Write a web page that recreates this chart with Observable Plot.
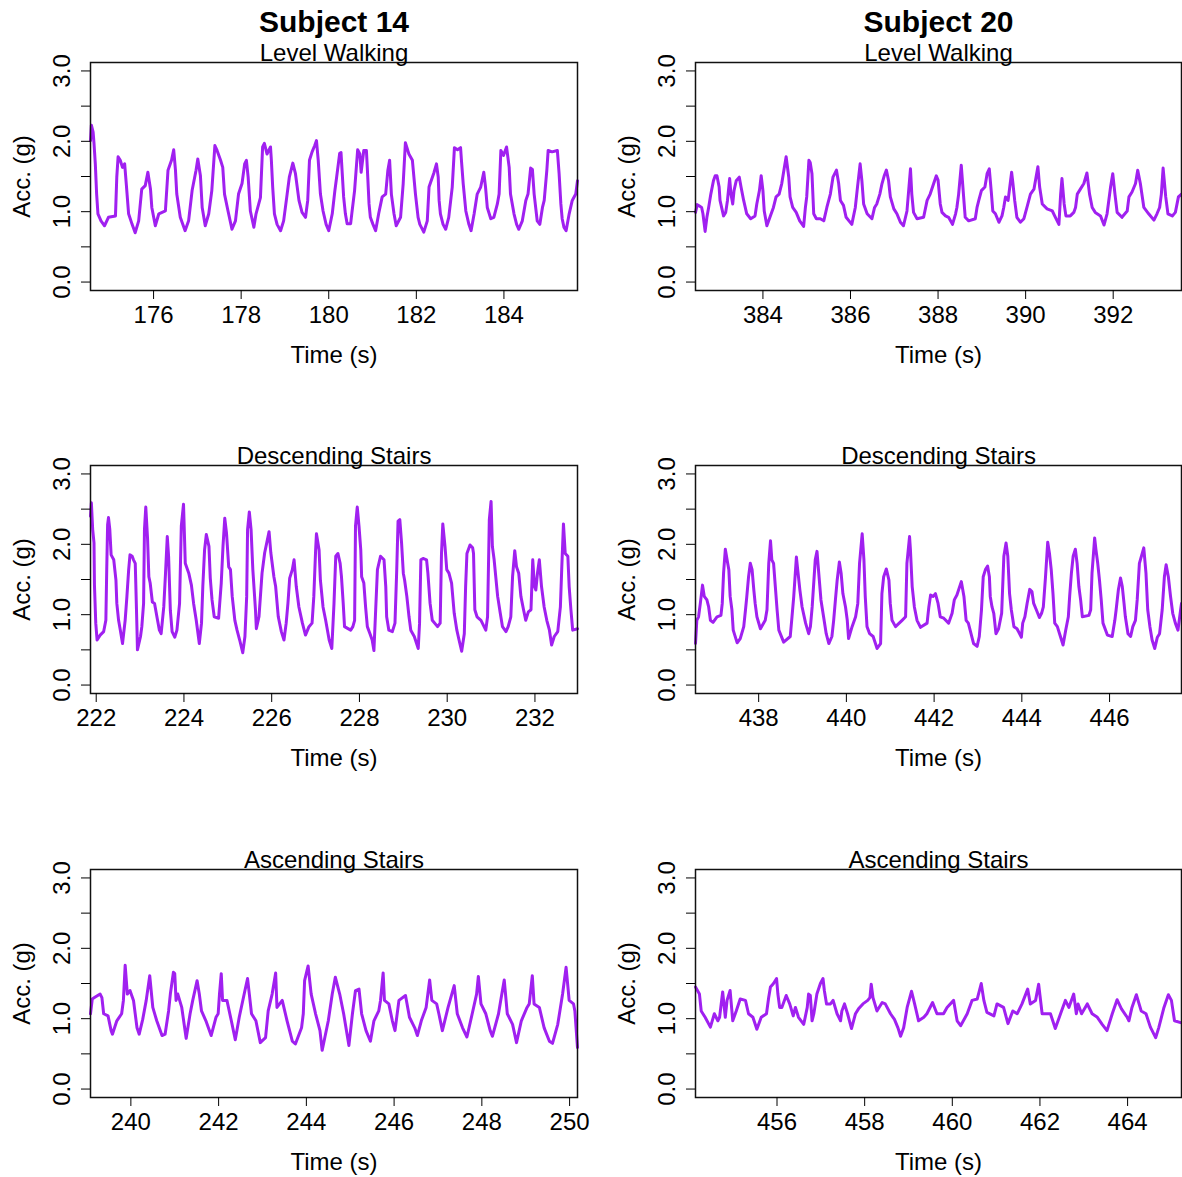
<!DOCTYPE html>
<html><head><meta charset="utf-8">
<script src="https://cdn.jsdelivr.net/npm/d3@7"></script>
<script src="https://cdn.jsdelivr.net/npm/@observablehq/plot@0.6"></script>
<style>
body{margin:0;background:#fff;}
#chart{position:relative;width:1182px;height:1177px;overflow:hidden;background:#fff;}
#chart svg{position:absolute;}
</style></head><body><div id="chart"></div>
<script>
const subjects = ["Subject 14", "Subject 20"];
const activities = ["Level Walking", "Descending Stairs", "Ascending Stairs"];
const xLabel = "Time (s)";
const yLabel = "Acc. (g)";
const yTicks = [0, 0.5, 1, 1.5, 2, 2.5, 3];
const yDomain = [-0.12, 3.12];

const s14LevelTicks = [176, 178, 180, 182, 184];
const s20LevelTicks = [384, 386, 388, 390, 392];
const s14DescTicks = [222, 224, 226, 228, 230, 232];
const s20DescTicks = [438, 440, 442, 444, 446];
const s14AscTicks = [240, 242, 244, 246, 248, 250];
const s20AscTicks = [456, 458, 460, 462, 464];

// [time (s), acceleration (g)]
const s14Level = [[174.56,2.01],[174.58,2.23],[174.62,2.13],[174.64,1.97],[174.67,1.68],[174.70,1.25],[174.73,0.97],[174.80,0.87],[174.88,0.80],[174.97,0.92],[175.13,0.94],[175.16,1.49],[175.19,1.78],[175.24,1.73],[175.29,1.63],[175.34,1.68],[175.38,1.37],[175.43,0.97],[175.51,0.82],[175.58,0.70],[175.66,0.87],[175.73,1.32],[175.81,1.37],[175.87,1.56],[175.93,1.32],[175.96,1.06],[176.04,0.80],[176.12,0.97],[176.27,1.01],[176.33,1.59],[176.41,1.73],[176.46,1.88],[176.50,1.59],[176.53,1.25],[176.61,0.92],[176.72,0.73],[176.80,0.87],[176.88,1.30],[176.97,1.59],[177.01,1.75],[177.07,1.51],[177.11,1.06],[177.18,0.80],[177.26,0.97],[177.33,1.30],[177.40,1.94],[177.45,1.87],[177.53,1.73],[177.58,1.63],[177.62,1.25],[177.70,1.01],[177.79,0.75],[177.87,0.87],[177.94,1.25],[178.02,1.40],[178.08,1.68],[178.12,1.73],[178.16,1.49],[178.21,1.01],[178.29,0.78],[178.34,0.97],[178.44,1.20],[178.49,1.92],[178.53,1.97],[178.59,1.82],[178.67,1.92],[178.69,1.73],[178.72,1.35],[178.76,0.97],[178.82,0.82],[178.90,0.73],[178.97,0.87],[179.05,1.25],[179.10,1.49],[179.18,1.69],[179.24,1.54],[179.32,1.16],[179.39,0.99],[179.47,0.92],[179.52,1.16],[179.56,1.73],[179.62,1.85],[179.68,1.94],[179.72,2.01],[179.76,1.73],[179.81,1.25],[179.87,1.01],[179.94,0.82],[180.00,0.73],[180.08,0.97],[180.14,1.30],[180.18,1.49],[180.25,1.83],[180.28,1.84],[180.34,1.21],[180.38,0.97],[180.42,0.83],[180.50,0.83],[180.53,0.99],[180.59,1.30],[180.66,1.88],[180.71,1.82],[180.74,1.56],[180.80,1.87],[180.86,1.87],[180.88,1.63],[180.92,1.11],[180.95,0.92],[181.01,0.82],[181.07,0.73],[181.14,0.97],[181.22,1.21],[181.30,1.25],[181.35,1.59],[181.39,1.73],[181.43,1.25],[181.49,0.97],[181.54,0.80],[181.64,0.92],[181.70,1.40],[181.75,1.98],[181.83,1.82],[181.91,1.73],[181.93,1.59],[181.98,1.25],[182.04,0.92],[182.08,0.82],[182.17,0.71],[182.25,0.87],[182.29,1.35],[182.40,1.55],[182.46,1.68],[182.50,1.49],[182.52,1.16],[182.55,0.97],[182.61,0.82],[182.67,0.75],[182.74,0.92],[182.82,1.35],[182.87,1.91],[182.94,1.88],[183.01,1.91],[183.03,1.73],[183.07,1.40],[183.13,1.01],[183.20,0.82],[183.25,0.73],[183.32,0.97],[183.39,1.25],[183.47,1.35],[183.54,1.56],[183.58,1.35],[183.62,1.06],[183.70,0.90],[183.77,0.92],[183.85,1.11],[183.89,1.25],[183.93,1.87],[183.99,1.80],[184.06,1.92],[184.12,1.63],[184.15,1.25],[184.23,0.97],[184.29,0.82],[184.34,0.75],[184.42,0.87],[184.50,1.16],[184.55,1.25],[184.61,1.62],[184.65,1.60],[184.69,1.25],[184.76,0.87],[184.82,0.82],[184.88,1.06],[184.92,1.16],[184.98,1.59],[185.01,1.87],[185.10,1.85],[185.22,1.87],[185.26,1.54],[185.30,1.11],[185.33,0.90],[185.37,0.78],[185.42,0.73],[185.49,0.97],[185.56,1.16],[185.64,1.25],[185.68,1.44]];

const s20Level = [[382.46,0.99],[382.50,1.10],[382.55,1.08],[382.60,1.06],[382.63,0.97],[382.68,0.72],[382.72,0.92],[382.76,1.06],[382.81,1.25],[382.87,1.44],[382.91,1.51],[382.95,1.51],[383.00,1.35],[383.02,1.16],[383.10,0.94],[383.15,0.99],[383.19,1.16],[383.24,1.47],[383.27,1.25],[383.31,1.11],[383.34,1.30],[383.39,1.44],[383.46,1.49],[383.50,1.35],[383.56,1.16],[383.63,0.97],[383.72,0.90],[383.82,0.94],[383.86,1.11],[383.92,1.30],[383.96,1.51],[384.00,1.30],[384.03,1.01],[384.09,0.80],[384.17,0.94],[384.24,1.06],[384.30,1.21],[384.37,1.25],[384.43,1.40],[384.49,1.63],[384.53,1.78],[384.59,1.49],[384.62,1.21],[384.68,1.06],[384.76,0.99],[384.84,0.87],[384.93,0.79],[384.97,1.06],[385.00,1.21],[385.05,1.73],[385.08,1.70],[385.12,1.54],[385.16,0.97],[385.22,0.90],[385.31,0.90],[385.39,0.87],[385.46,1.06],[385.54,1.25],[385.60,1.49],[385.68,1.59],[385.73,1.40],[385.77,1.16],[385.84,1.09],[385.90,0.92],[386.03,0.82],[386.11,1.06],[386.16,1.35],[386.22,1.68],[386.26,1.44],[386.30,1.11],[386.38,0.97],[386.49,0.90],[386.55,1.06],[386.60,1.11],[386.67,1.25],[386.72,1.40],[386.77,1.51],[386.82,1.59],[386.87,1.44],[386.91,1.21],[386.99,1.04],[387.06,0.97],[387.14,0.85],[387.21,0.80],[387.29,1.01],[387.37,1.61],[387.40,1.25],[387.44,0.99],[387.52,0.90],[387.67,0.92],[387.75,1.16],[387.82,1.25],[387.90,1.40],[387.96,1.51],[388.00,1.45],[388.05,1.11],[388.09,0.99],[388.17,0.94],[388.24,0.92],[388.33,0.82],[388.40,0.97],[388.43,1.06],[388.47,1.25],[388.53,1.66],[388.59,1.16],[388.62,0.92],[388.70,0.87],[388.85,0.90],[388.89,1.06],[388.93,1.16],[388.99,1.30],[389.07,1.35],[389.12,1.54],[389.17,1.61],[389.22,1.25],[389.25,1.01],[389.31,0.97],[389.39,0.85],[389.46,0.94],[389.50,1.06],[389.54,1.21],[389.60,1.16],[389.68,1.56],[389.71,1.40],[389.75,1.16],[389.80,0.92],[389.88,0.85],[389.96,0.90],[390.03,1.06],[390.11,1.25],[390.19,1.32],[390.28,1.64],[390.32,1.35],[390.38,1.11],[390.49,1.04],[390.61,1.01],[390.68,0.92],[390.76,0.82],[390.80,1.25],[390.83,1.47],[390.88,1.11],[390.92,0.94],[391.02,0.94],[391.10,0.99],[391.14,1.06],[391.18,1.25],[391.25,1.32],[391.33,1.40],[391.40,1.55],[391.46,1.25],[391.52,1.06],[391.59,0.99],[391.71,0.94],[391.79,0.81],[391.86,0.97],[391.94,1.35],[391.99,1.54],[392.04,1.25],[392.09,0.99],[392.20,0.92],[392.32,1.01],[392.36,1.21],[392.43,1.28],[392.51,1.40],[392.56,1.59],[392.62,1.40],[392.70,1.06],[392.81,0.97],[392.93,0.88],[393.00,0.97],[393.06,1.06],[393.10,1.25],[393.14,1.62],[393.20,1.21],[393.25,0.97],[393.35,0.94],[393.42,0.99],[393.49,1.21],[393.56,1.25]];

const s14Desc = [[221.87,2.40],[221.89,2.59],[221.92,2.21],[221.95,2.02],[221.96,1.42],[221.99,0.88],[222.02,0.64],[222.09,0.71],[222.17,0.76],[222.22,0.92],[222.24,1.64],[222.26,2.28],[222.28,2.38],[222.31,2.21],[222.34,1.85],[222.40,1.78],[222.45,1.49],[222.47,1.16],[222.51,0.92],[222.55,0.78],[222.60,0.59],[222.66,0.92],[222.70,1.26],[222.74,1.64],[222.77,1.85],[222.82,1.83],[222.85,1.78],[222.89,1.73],[222.91,1.26],[222.93,0.78],[222.94,0.50],[223.01,0.69],[223.04,0.83],[223.08,1.16],[223.10,2.21],[223.13,2.53],[223.17,2.09],[223.20,1.54],[223.23,1.45],[223.28,1.18],[223.33,1.16],[223.39,0.95],[223.44,0.78],[223.48,0.73],[223.54,1.11],[223.58,1.59],[223.62,2.11],[223.65,1.83],[223.69,1.06],[223.73,0.76],[223.79,0.68],[223.84,0.78],[223.90,1.16],[223.94,2.26],[223.99,2.57],[224.03,1.73],[224.11,1.59],[224.17,1.42],[224.22,1.16],[224.28,0.92],[224.35,0.59],[224.40,0.88],[224.43,1.40],[224.47,1.92],[224.51,2.14],[224.57,1.97],[224.60,1.52],[224.64,1.21],[224.69,0.97],[224.79,0.95],[224.85,1.45],[224.89,1.97],[224.93,2.37],[224.97,2.16],[225.02,1.68],[225.06,1.64],[225.10,1.26],[225.16,0.92],[225.21,0.78],[225.27,0.64],[225.34,0.46],[225.39,0.69],[225.43,1.26],[225.45,2.21],[225.49,2.46],[225.53,2.21],[225.57,1.64],[225.63,1.07],[225.65,0.80],[225.71,0.97],[225.78,1.59],[225.84,1.88],[225.94,2.18],[225.98,1.88],[226.05,1.54],[226.09,1.40],[226.15,0.97],[226.22,0.76],[226.28,0.64],[226.33,0.88],[226.37,1.16],[226.41,1.52],[226.47,1.64],[226.51,1.78],[226.56,1.40],[226.62,1.11],[226.70,0.88],[226.77,0.71],[226.85,0.83],[226.92,0.88],[226.96,1.26],[227.00,1.90],[227.02,2.15],[227.08,1.92],[227.11,1.49],[227.17,1.11],[227.23,0.92],[227.31,0.64],[227.37,0.52],[227.42,1.16],[227.46,1.83],[227.51,1.87],[227.56,1.73],[227.59,1.54],[227.63,1.16],[227.66,0.83],[227.80,0.78],[227.85,0.83],[227.89,0.92],[227.91,2.26],[227.95,2.53],[227.99,2.26],[228.03,1.92],[228.05,1.54],[228.10,1.45],[228.14,1.11],[228.18,0.83],[228.24,0.73],[228.29,0.64],[228.33,0.49],[228.37,1.07],[228.41,1.64],[228.48,1.83],[228.56,1.78],[228.60,1.40],[228.62,0.97],[228.67,0.78],[228.75,0.76],[228.81,0.88],[228.85,1.64],[228.88,2.33],[228.92,2.35],[228.96,2.02],[229.00,1.59],[229.03,1.49],[229.08,1.26],[229.13,0.97],[229.17,0.78],[229.25,0.69],[229.34,0.52],[229.37,0.88],[229.40,1.78],[229.45,1.80],[229.53,1.78],[229.56,1.59],[229.61,1.16],[229.66,0.92],[229.78,0.83],[229.84,0.88],[229.87,1.87],[229.90,2.29],[229.95,1.97],[229.99,1.64],[230.04,1.59],[230.10,1.45],[230.16,1.02],[230.22,0.78],[230.27,0.64],[230.33,0.48],[230.39,0.73],[230.42,1.40],[230.45,1.87],[230.52,1.99],[230.58,1.95],[230.60,1.87],[230.63,1.07],[230.68,0.97],[230.77,0.92],[230.88,0.78],[230.92,0.97],[230.96,2.35],[231.00,2.61],[231.03,1.97],[231.07,1.78],[231.15,1.26],[231.21,1.02],[231.26,0.83],[231.34,0.76],[231.39,0.83],[231.45,0.97],[231.49,1.54],[231.54,1.91],[231.58,1.68],[231.63,1.59],[231.68,1.26],[231.74,1.07],[231.79,0.92],[231.85,1.04],[231.91,1.07],[231.95,1.78],[231.99,1.40],[232.02,1.35],[232.06,1.60],[232.10,1.78],[232.15,1.40],[232.21,1.11],[232.27,0.92],[232.33,0.78],[232.38,0.57],[232.44,0.69],[232.52,0.76],[232.58,1.11],[232.61,1.64],[232.65,2.29],[232.69,1.87],[232.75,1.83],[232.78,1.40],[232.82,1.07],[232.86,0.78],[232.97,0.80]];

const s20Desc = [[436.56,0.59],[436.59,0.92],[436.63,0.97],[436.67,1.16],[436.72,1.42],[436.76,1.26],[436.82,1.21],[436.86,1.11],[436.90,0.92],[436.96,0.89],[437.05,0.97],[437.14,0.99],[437.17,1.16],[437.20,1.59],[437.24,1.93],[437.28,1.78],[437.32,1.64],[437.35,1.26],[437.39,1.07],[437.42,0.78],[437.51,0.60],[437.58,0.66],[437.66,0.83],[437.70,1.07],[437.73,1.26],[437.77,1.54],[437.81,1.73],[437.85,1.64],[437.89,1.35],[437.92,1.16],[437.96,0.97],[438.04,0.80],[438.15,0.92],[438.19,1.07],[438.23,1.73],[438.27,2.05],[438.30,1.78],[438.34,1.73],[438.38,1.40],[438.42,1.07],[438.46,0.78],[438.57,0.61],[438.72,0.69],[438.76,0.97],[438.80,1.26],[438.86,1.82],[438.89,1.64],[438.94,1.35],[438.99,1.11],[439.07,0.88],[439.14,0.73],[439.18,0.83],[439.22,1.11],[439.26,1.49],[439.29,1.78],[439.33,1.90],[439.37,1.59],[439.42,1.21],[439.48,0.97],[439.54,0.73],[439.60,0.59],[439.67,0.69],[439.71,0.92],[439.75,1.21],[439.79,1.49],[439.84,1.75],[439.88,1.59],[439.92,1.30],[439.98,1.11],[440.02,0.92],[440.05,0.66],[440.13,0.83],[440.21,0.97],[440.26,1.16],[440.30,1.73],[440.36,2.15],[440.40,1.78],[440.43,1.26],[440.47,0.83],[440.53,0.73],[440.61,0.69],[440.70,0.52],[440.78,0.59],[440.81,1.30],[440.85,1.54],[440.91,1.65],[440.97,1.49],[441.00,1.16],[441.04,0.92],[441.12,0.83],[441.27,0.92],[441.35,0.97],[441.38,1.73],[441.44,2.11],[441.46,1.92],[441.50,1.40],[441.55,1.11],[441.61,0.92],[441.69,0.82],[441.84,0.88],[441.88,1.11],[441.92,1.28],[441.98,1.26],[442.03,1.30],[442.09,1.16],[442.14,0.97],[442.22,0.95],[442.33,0.88],[442.41,1.02],[442.46,1.21],[442.52,1.28],[442.62,1.47],[442.68,1.26],[442.73,0.92],[442.78,0.88],[442.83,0.76],[442.90,0.59],[442.98,0.55],[443.03,0.69],[443.08,1.07],[443.12,1.54],[443.17,1.64],[443.22,1.69],[443.26,1.54],[443.28,1.26],[443.32,1.11],[443.36,1.02],[443.41,0.73],[443.47,0.80],[443.54,1.02],[443.59,1.83],[443.64,2.02],[443.68,1.83],[443.72,1.30],[443.76,1.07],[443.82,0.83],[443.89,0.80],[443.99,0.68],[444.02,0.88],[444.07,0.97],[444.12,1.16],[444.18,1.36],[444.23,1.33],[444.27,1.16],[444.33,1.07],[444.40,0.96],[444.45,1.02],[444.49,1.11],[444.54,1.54],[444.59,2.03],[444.63,1.87],[444.67,1.64],[444.71,1.30],[444.75,0.88],[444.81,0.83],[444.86,0.73],[444.94,0.57],[445.00,0.78],[445.06,0.97],[445.09,1.26],[445.13,1.59],[445.17,1.83],[445.22,1.93],[445.26,1.73],[445.30,1.40],[445.34,1.21],[445.38,0.97],[445.53,0.99],[445.57,1.07],[445.60,1.59],[445.66,2.09],[445.69,1.92],[445.73,1.73],[445.77,1.49],[445.81,1.21],[445.85,0.88],[445.95,0.71],[446.06,0.69],[446.12,0.92],[446.15,1.07],[446.20,1.35],[446.25,1.52],[446.29,1.40],[446.33,1.16],[446.36,0.97],[446.42,0.73],[446.48,0.69],[446.53,0.83],[446.59,0.92],[446.63,1.21],[446.68,1.73],[446.78,1.95],[446.83,1.59],[446.87,1.07],[446.92,0.83],[446.97,0.64],[447.03,0.52],[447.09,0.68],[447.14,0.73],[447.20,1.07],[447.25,1.54],[447.29,1.71],[447.34,1.54],[447.39,1.26],[447.44,1.02],[447.50,0.88],[447.56,0.78],[447.62,1.07],[447.64,1.16]];

const s14Asc = [[239.08,1.07],[239.12,1.28],[239.17,1.30],[239.30,1.35],[239.34,1.30],[239.38,1.07],[239.48,1.04],[239.55,0.83],[239.58,0.78],[239.68,0.97],[239.79,1.07],[239.83,1.26],[239.87,1.76],[239.92,1.35],[239.98,1.40],[240.06,1.26],[240.14,0.87],[240.19,0.78],[240.27,0.99],[240.35,1.26],[240.43,1.61],[240.50,1.16],[240.59,0.97],[240.71,0.76],[240.78,0.78],[240.86,1.11],[240.90,1.35],[240.97,1.66],[241.00,1.64],[241.03,1.26],[241.07,1.35],[241.16,1.16],[241.26,0.72],[241.35,1.07],[241.41,1.26],[241.51,1.54],[241.56,1.35],[241.61,1.11],[241.71,0.97],[241.83,0.76],[241.94,1.02],[241.99,1.07],[242.02,1.35],[242.06,1.64],[242.09,1.26],[242.19,1.26],[242.29,0.97],[242.38,0.70],[242.47,1.02],[242.60,1.40],[242.66,1.57],[242.70,1.35],[242.75,1.07],[242.85,0.97],[242.95,0.66],[243.07,0.73],[243.13,1.11],[243.22,1.35],[243.30,1.65],[243.33,1.16],[243.45,1.26],[243.56,0.97],[243.68,0.68],[243.75,0.64],[243.89,0.87],[243.93,1.07],[243.96,1.54],[244.04,1.75],[244.11,1.35],[244.21,1.07],[244.31,0.83],[244.36,0.55],[244.42,0.73],[244.50,0.97],[244.59,1.35],[244.66,1.59],[244.76,1.35],[244.85,1.07],[244.97,0.62],[245.05,1.07],[245.12,1.40],[245.20,1.42],[245.26,1.07],[245.36,0.83],[245.46,0.68],[245.54,0.97],[245.65,1.11],[245.69,1.26],[245.75,1.65],[245.78,1.26],[245.88,1.21],[245.96,0.97],[246.02,0.83],[246.11,1.26],[246.26,1.33],[246.35,1.02],[246.47,0.87],[246.53,0.76],[246.62,0.97],[246.73,1.16],[246.81,1.55],[246.86,1.26],[246.97,1.21],[247.02,1.07],[247.10,0.83],[247.23,1.16],[247.37,1.47],[247.44,1.07],[247.56,0.87],[247.66,0.74],[247.78,1.07],[247.88,1.35],[247.92,1.60],[247.98,1.21],[248.09,1.07],[248.19,0.83],[248.24,0.75],[248.38,1.07],[248.43,1.26],[248.51,1.55],[248.58,1.07],[248.70,0.92],[248.79,0.66],[248.90,0.97],[249.03,1.16],[249.08,1.21],[249.15,1.61],[249.19,1.21],[249.31,1.16],[249.42,0.87],[249.54,0.68],[249.61,0.65],[249.73,0.92],[249.84,1.35],[249.92,1.73],[249.99,1.26],[250.09,1.21],[250.12,1.11],[250.18,0.59]];

const s20Asc = [[454.14,1.45],[454.23,1.35],[454.27,1.11],[454.36,1.02],[454.48,0.88],[454.57,1.07],[454.65,0.97],[454.69,1.02],[454.76,1.38],[454.82,1.02],[454.86,1.26],[454.93,1.40],[454.99,0.97],[455.07,1.11],[455.16,1.28],[455.28,1.26],[455.35,1.07],[455.45,1.02],[455.54,0.85],[455.64,1.02],[455.76,1.07],[455.81,1.30],[455.85,1.45],[455.92,1.50],[455.99,1.57],[456.02,1.35],[456.06,1.16],[456.11,1.16],[456.21,1.33],[456.29,1.21],[456.37,1.04],[456.42,1.16],[456.49,1.02],[456.61,0.92],[456.69,1.16],[456.72,1.35],[456.76,1.33],[456.80,0.97],[456.84,1.07],[456.91,1.35],[456.99,1.50],[457.05,1.57],[457.08,1.40],[457.13,1.21],[457.22,1.21],[457.28,1.26],[457.37,1.07],[457.45,0.97],[457.48,1.11],[457.54,1.21],[457.61,1.07],[457.70,0.86],[457.79,1.07],[457.86,1.14],[457.96,1.21],[458.07,1.26],[458.12,1.30],[458.15,1.49],[458.19,1.30],[458.28,1.11],[458.40,1.23],[458.47,1.21],[458.59,1.07],[458.68,0.99],[458.76,0.87],[458.82,0.75],[458.89,0.87],[458.97,1.16],[459.07,1.39],[459.14,1.21],[459.23,0.97],[459.35,1.02],[459.42,1.07],[459.55,1.23],[459.65,1.07],[459.80,1.07],[459.88,1.16],[460.03,1.26],[460.11,0.97],[460.19,0.90],[460.34,1.07],[460.45,1.26],[460.57,1.28],[460.66,1.50],[460.72,1.26],[460.79,1.09],[460.95,1.04],[461.02,1.21],[461.17,1.16],[461.27,0.93],[461.38,1.11],[461.48,1.07],[461.59,1.21],[461.72,1.42],[461.78,1.21],[461.90,1.26],[461.97,1.49],[462.05,1.07],[462.16,1.07],[462.24,1.07],[462.35,0.86],[462.47,1.07],[462.58,1.26],[462.66,1.16],[462.77,1.35],[462.83,1.07],[462.87,1.21],[462.95,1.07],[463.08,1.21],[463.19,1.07],[463.31,1.02],[463.42,0.92],[463.53,0.83],[463.65,1.07],[463.76,1.27],[463.86,1.14],[463.99,1.02],[464.03,0.97],[464.10,1.16],[464.20,1.34],[464.31,1.11],[464.42,1.07],[464.52,0.88],[464.64,0.73],[464.71,0.87],[464.83,1.16],[464.93,1.34],[465.00,1.26],[465.07,0.97],[465.23,0.94]];

const panels = [
  {series: s14Level, ticks: s14LevelTicks, activity: activities[0], subject: subjects[0], col: 0, row: 0},
  {series: s20Level, ticks: s20LevelTicks, activity: activities[0], subject: subjects[1], col: 1, row: 0},
  {series: s14Desc, ticks: s14DescTicks, activity: activities[1], subject: null, col: 0, row: 1},
  {series: s20Desc, ticks: s20DescTicks, activity: activities[1], subject: null, col: 1, row: 1},
  {series: s14Asc, ticks: s14AscTicks, activity: activities[2], subject: null, col: 0, row: 2},
  {series: s20Asc, ticks: s20AscTicks, activity: activities[2], subject: null, col: 1, row: 2}
];

const font = "'Liberation Sans', Arial, Helvetica, sans-serif";
const fs = 24;
const rowTops = [0, 403, 807];
const chart = document.getElementById("chart");

for (const p of panels) {
  const data = p.series.map(([t, a]) => ({t, a}));
  const width = p.col === 0 ? 605 : 577;
  const marks = [
    Plot.line(data, {x: "t", y: "a", stroke: "#A020F0", strokeWidth: 3}),
    Plot.frame({stroke: "#111", strokeWidth: 1.5}),
    Plot.axisX({ticks: p.ticks, tickSize: 9, tickPadding: 6, tickFormat: d => String(d), label: null, fontSize: fs}),
    Plot.axisY({ticks: yTicks, tickSize: 9, tickPadding: 12, tickRotate: -90, tickFormat: d => (d % 1 === 0 ? d.toFixed(1) : ""), label: null, fontSize: fs}),
    Plot.text([xLabel], {frameAnchor: "bottom", dy: 65, text: d => d, textAnchor: "middle", lineAnchor: "middle", fontSize: fs}),
    Plot.text([yLabel], {frameAnchor: "left", dx: -68, rotate: -90, text: d => d, textAnchor: "middle", lineAnchor: "middle", fontSize: fs}),
    Plot.text([p.activity], {frameAnchor: "top", dy: -2, textAnchor: "middle", lineAnchor: "bottom", text: d => d, fontSize: fs})
  ];
  if (p.subject) marks.push(Plot.text([p.subject], {frameAnchor: "top", dy: -31, textAnchor: "middle", lineAnchor: "bottom", text: d => d, fontSize: 30, fontWeight: "bold"}));
  const svg = Plot.plot({
    width, height: 370,
    marginTop: 62, marginBottom: 80, marginLeft: 90, marginRight: p.col === 0 ? 28 : 1,
    x: {domain: d3.extent(data, d => d.t)},
    y: {domain: yDomain},
    style: {fontFamily: font, fontSize: fs + "px", color: "#000", background: "transparent", overflow: "visible"},
    marks
  });
  svg.style.left = (p.col === 0 ? 0 : 605) + "px";
  svg.style.top = rowTops[p.row] + "px";
  chart.appendChild(svg);
}
</script></body></html>
